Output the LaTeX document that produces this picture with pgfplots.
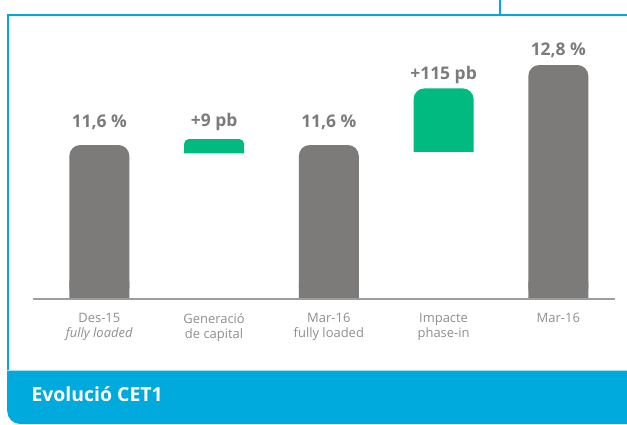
\documentclass[border=0pt]{standalone}
\usepackage{fontspec}
\setmainfont{Open Sans}
\usepackage{pgfplots}
\pgfplotsset{compat=1.18}
\usetikzlibrary{calc}
\definecolor{barGray}{HTML}{7D7B79}
\definecolor{barGreen}{HTML}{00BA7F}
\definecolor{frameBlue}{HTML}{00AADD}
\definecolor{labelGray}{HTML}{7B7B7B}
\definecolor{tickGray}{HTML}{8E8E8E}
\definecolor{baseGray}{HTML}{9D9D9D}
\begin{document}
\begin{tikzpicture}[x=1bp,y=1bp]
\begin{axis}[
  name=ax,
  scale only axis, width=582bp, height=279bp,
  xmin=-0.578, xmax=4.494, ymin=9.29, ymax=13.475,
  axis x line*=bottom, axis y line=none,
  axis line style={draw=none},
  xtick={0,1,2,3,4},
  xticklabels={{Des-15\\\textit{fully loaded}},{Generació\\de capital},{Mar-16\\fully loaded},{Impacte\\phase-in},{Mar-16}},
  major tick length=0pt,
  xticklabel style={font=\fontsize{13}{15}\selectfont, text=tickGray, align=center, anchor=north, yshift=-11bp},
  ytick=\empty,
  bar width=0.523, 
]
% gray bars (rounded tops)
\addplot[ybar, bar shift=0pt, fill=barGray, draw=none, rounded corners=11bp] coordinates {(0,11.6) (2,11.6) (4,12.8)};
\addplot[ybar, bar shift=0pt, fill=barGray, draw=none] coordinates {(0,9.55) (2,9.55) (4,9.55)};
% green floating bars: top then cover below bottom
\addplot[ybar, bar shift=0pt, fill=barGreen, draw=none, rounded corners=5bp] coordinates {(1,11.69)};
\addplot[ybar, bar shift=0pt, fill=barGreen, draw=none, rounded corners=11bp] coordinates {(3,12.45)};
\addplot[ybar, bar shift=0pt, bar width=0.54, fill=white, draw=none] coordinates {(1,11.475) (3,11.495)};
% value labels
\addplot[only marks, mark=none, nodes near coords, point meta=explicit symbolic,
  every node near coord/.style={anchor=center, font=\fontsize{17.5}{20}\selectfont\bfseries, text=labelGray}]
  coordinates {(0,11.94) [11,6 \%] (1,11.945) [+9 pb] (2,11.94) [11,6 \%] (3,12.65) [+115 pb] (4,13.02) [12,8 \%]};
\end{axis}
\draw[baseGray, line width=1.8bp] (ax.south west) -- (ax.south east);
\begin{scope}[shift={($(ax.south west)+(-33,-125)$)}]
\begin{scope}
\clip (0,0) rectangle (627,424);
\fill[frameBlue] (7.2,53.5) -- (640,53.5) -- (640,0) [rounded corners=13bp] -- (7.2,0) -- (7.2,30) [sharp corners] -- (7.2,53.5) -- cycle;
\draw[frameBlue, line width=1.6bp] (8,54) -- (8,409) -- (640,409);
\draw[frameBlue, line width=1.2bp] (500,409) -- (500,430);
\end{scope}
\node[anchor=base west, text=white, font=\fontsize{19.5}{22}\selectfont\bfseries] at (28,22.5) {Evolució CET1};
\pgfresetboundingbox
\path[use as bounding box] (0,0) rectangle (627,424);
\end{scope}
\end{tikzpicture}
\end{document}
